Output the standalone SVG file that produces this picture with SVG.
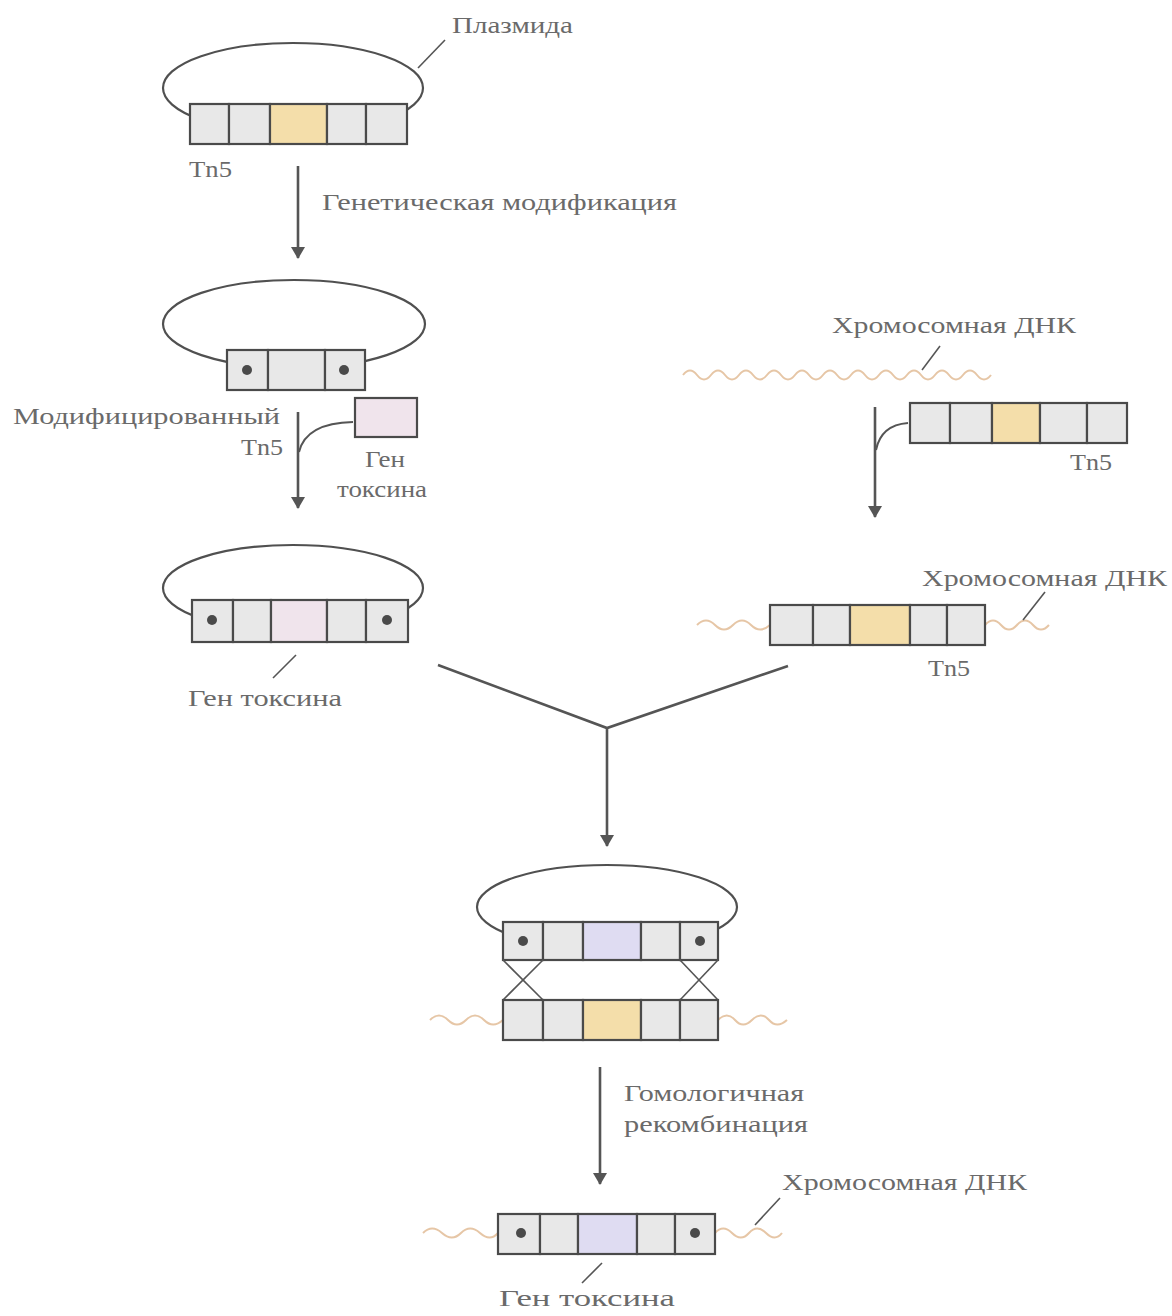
<svg xmlns="http://www.w3.org/2000/svg" width="1172" height="1316" viewBox="0 0 1172 1316">
<defs>
<style>
.bg{fill:#ffffff}
.loop{fill:none;stroke:#505050;stroke-width:2.2}
.cell{fill:#e8e8e8;stroke:#4a4a4a;stroke-width:2.2}
.yel{fill:#f4deaa;stroke:#4a4a4a;stroke-width:2.2}
.pink{fill:#f0e4ec;stroke:#4a4a4a;stroke-width:2.2}
.lav{fill:#dfdcf2;stroke:#4a4a4a;stroke-width:2.2}
.dot{fill:#4a4a4a}
.dna{fill:none;stroke:#e6c6a6;stroke-width:2}
.lead{fill:none;stroke:#555;stroke-width:1.6}
.arr{fill:none;stroke:#555;stroke-width:2.6}
.lbl{font-family:"Liberation Serif","Times New Roman",serif;font-size:24px;fill:#6a6a6a}
</style>
<marker id="ah" markerWidth="12" markerHeight="14" refX="11" refY="7" orient="auto" markerUnits="userSpaceOnUse" viewBox="0 0 12 14">
<path d="M0,0 L12,7 L0,14 Z" fill="#555"/>
</marker>
</defs>
<rect class="bg" x="0" y="0" width="1172" height="1316"/>

<g id="plasmid1">
<ellipse class="loop" cx="293" cy="88" rx="130" ry="45"/>
<rect class="cell" x="190" y="104" width="39" height="40"/>
<rect class="cell" x="229" y="104" width="41" height="40"/>
<rect class="yel" x="270" y="104" width="57" height="40"/>
<rect class="cell" x="327" y="104" width="39" height="40"/>
<rect class="cell" x="366" y="104" width="41" height="40"/>
<line class="lead" x1="418" y1="68" x2="445" y2="40"/>
<text class="lbl" x="452" y="33" textLength="121" lengthAdjust="spacingAndGlyphs">Плазмида</text>
<text class="lbl" x="189" y="177" textLength="43" lengthAdjust="spacingAndGlyphs">Tn5</text>
</g>

<g id="plasmid2">
<ellipse class="loop" cx="294" cy="324" rx="131" ry="44"/>
<rect class="cell" x="227" y="350" width="41" height="40"/>
<rect class="cell" x="268" y="350" width="57" height="40"/>
<rect class="cell" x="325" y="350" width="40" height="40"/>
<circle class="dot" cx="247" cy="370" r="5"/>
<circle class="dot" cx="344" cy="370" r="5"/>
<text class="lbl" x="13" y="424" textLength="267" lengthAdjust="spacingAndGlyphs">Модифицированный</text>
<text class="lbl" x="241" y="455" textLength="42" lengthAdjust="spacingAndGlyphs">Tn5</text>
</g>

<g id="toxin-gene">
<rect class="pink" x="355" y="398" width="62" height="39"/>
<text class="lbl" x="365" y="467" textLength="40" lengthAdjust="spacingAndGlyphs">Ген</text>
<text class="lbl" x="337" y="497" textLength="90" lengthAdjust="spacingAndGlyphs">токсина</text>
</g>

<g id="chromosome1">
<path class="dna" d="M683,375 q7,-9 14,0 t14,0 t14,0 t14,0 t14,0 t14,0 t14,0 t14,0 t14,0 t14,0 t14,0 t14,0 t14,0 t14,0 t14,0 t14,0 t14,0 t14,0 t14,0 t14,0 t14,0 t14,0"/>
<line class="lead" x1="922" y1="370" x2="940" y2="346"/>
<text class="lbl" x="832" y="333" textLength="244" lengthAdjust="spacingAndGlyphs">Хромосомная ДНК</text>
</g>

<g id="tn5-free">
<rect class="cell" x="910" y="403" width="40" height="40"/>
<rect class="cell" x="950" y="403" width="42" height="40"/>
<rect class="yel" x="992" y="403" width="48" height="40"/>
<rect class="cell" x="1040" y="403" width="47" height="40"/>
<rect class="cell" x="1087" y="403" width="40" height="40"/>
<text class="lbl" x="1070" y="470" textLength="42" lengthAdjust="spacingAndGlyphs">Tn5</text>
</g>

<g id="plasmid3">
<ellipse class="loop" cx="293" cy="588" rx="130" ry="43"/>
<rect class="cell" x="192" y="600" width="41" height="42"/>
<rect class="cell" x="233" y="600" width="38" height="42"/>
<rect class="pink" x="271" y="600" width="56" height="42"/>
<rect class="cell" x="327" y="600" width="39" height="42"/>
<rect class="cell" x="366" y="600" width="42" height="42"/>
<circle class="dot" cx="212" cy="620" r="5"/>
<circle class="dot" cx="387" cy="620" r="5"/>
<line class="lead" x1="296" y1="655" x2="273" y2="678"/>
<text class="lbl" x="188" y="706" textLength="154" lengthAdjust="spacingAndGlyphs">Ген токсина</text>
</g>

<g id="chromosome2">
<path class="dna" d="M697,625 q9,-9 18,0 t18,0 t18,0 t19,0"/>
<path class="dna" d="M985,625 q8,-9 16,0 t16,0 t16,0 t16,0"/>
<rect class="cell" x="770" y="605" width="43" height="40"/>
<rect class="cell" x="813" y="605" width="37" height="40"/>
<rect class="yel" x="850" y="605" width="60" height="40"/>
<rect class="cell" x="910" y="605" width="37" height="40"/>
<rect class="cell" x="947" y="605" width="38" height="40"/>
<line class="lead" x1="1023" y1="620" x2="1045" y2="592"/>
<text class="lbl" x="922" y="586" textLength="245" lengthAdjust="spacingAndGlyphs">Хромосомная ДНК</text>
<text class="lbl" x="928" y="676" textLength="42" lengthAdjust="spacingAndGlyphs">Tn5</text>
</g>

<g id="recombination">
<ellipse class="loop" cx="607" cy="907" rx="130" ry="42"/>
<path class="dna" d="M430,1020 q9,-9 18,0 t18,0 t18,0 t19,0"/>
<path class="dna" d="M718,1020 q9,-9 17,0 t17,0 t17,0 t18,0"/>
<rect class="cell" x="503" y="922" width="40" height="38"/>
<rect class="cell" x="543" y="922" width="40" height="38"/>
<rect class="lav" x="583" y="922" width="58" height="38"/>
<rect class="cell" x="641" y="922" width="39" height="38"/>
<rect class="cell" x="680" y="922" width="38" height="38"/>
<circle class="dot" cx="523" cy="941" r="5"/>
<circle class="dot" cx="700" cy="941" r="5"/>
<line class="lead" x1="503" y1="960" x2="543" y2="1000"/>
<line class="lead" x1="543" y1="960" x2="503" y2="1000"/>
<line class="lead" x1="680" y1="960" x2="718" y2="1000"/>
<line class="lead" x1="718" y1="960" x2="680" y2="1000"/>
<rect class="cell" x="503" y="1000" width="40" height="40"/>
<rect class="cell" x="543" y="1000" width="40" height="40"/>
<rect class="yel" x="583" y="1000" width="58" height="40"/>
<rect class="cell" x="641" y="1000" width="39" height="40"/>
<rect class="cell" x="680" y="1000" width="38" height="40"/>
</g>

<g id="result">
<path class="dna" d="M423,1233 q9,-9 19,0 t19,0 t19,0 t18,0"/>
<path class="dna" d="M715,1233 q8,-9 17,0 t17,0 t17,0 t16,0"/>
<rect class="cell" x="498" y="1214" width="42" height="40"/>
<rect class="cell" x="540" y="1214" width="38" height="40"/>
<rect class="lav" x="578" y="1214" width="59" height="40"/>
<rect class="cell" x="637" y="1214" width="38" height="40"/>
<rect class="cell" x="675" y="1214" width="40" height="40"/>
<circle class="dot" cx="521" cy="1233" r="5"/>
<circle class="dot" cx="695" cy="1233" r="5"/>
<line class="lead" x1="755" y1="1225" x2="780" y2="1198"/>
<line class="lead" x1="602" y1="1263" x2="582" y2="1283"/>
<text class="lbl" x="782" y="1190" textLength="245" lengthAdjust="spacingAndGlyphs">Хромосомная ДНК</text>
<text class="lbl" x="499" y="1306" textLength="176" lengthAdjust="spacingAndGlyphs">Ген токсина</text>
</g>

<g id="connectors">
<line class="arr" x1="298" y1="166" x2="298" y2="258" marker-end="url(#ah)"/>
<text class="lbl" x="322" y="210" textLength="355" lengthAdjust="spacingAndGlyphs">Генетическая модификация</text>
<line class="arr" x1="298" y1="412" x2="298" y2="508" marker-end="url(#ah)"/>
<path class="lead" d="M353,422 Q306,423 299,452" style="stroke-width:2"/>
<line class="arr" x1="875" y1="407" x2="875" y2="517" marker-end="url(#ah)"/>
<path class="lead" d="M908,423 Q881,425 876,450" style="stroke-width:2"/>
<polyline class="arr" points="438,665 607,728 788,666"/>
<line class="arr" x1="607" y1="728" x2="607" y2="846" marker-end="url(#ah)"/>
<line class="arr" x1="600" y1="1067" x2="600" y2="1184" marker-end="url(#ah)"/>
<text class="lbl" x="624" y="1101" textLength="180" lengthAdjust="spacingAndGlyphs">Гомологичная</text>
<text class="lbl" x="624" y="1132" textLength="184" lengthAdjust="spacingAndGlyphs">рекомбинация</text>
</g>
</svg>
